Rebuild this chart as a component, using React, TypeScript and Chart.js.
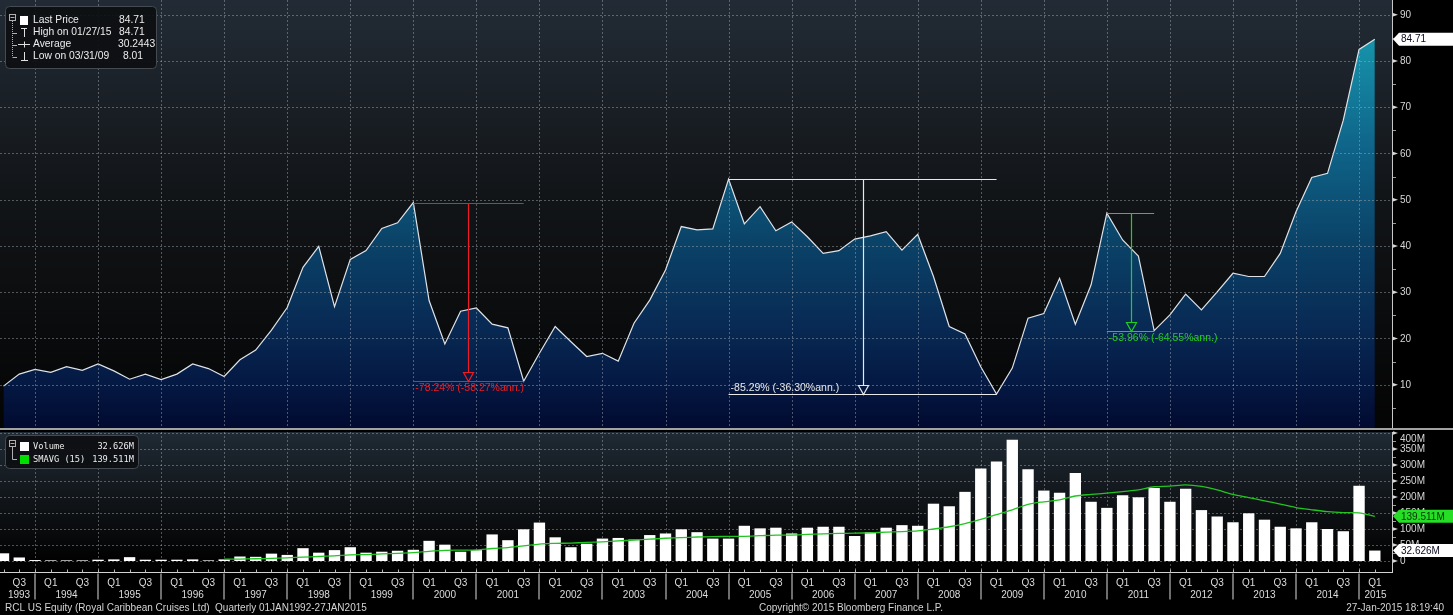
import React, { useEffect, useRef } from "react";
import { Chart, registerables } from "chart.js";
Chart.register(...registerables);

const W = 1453;
const H_PRICE = 430;
const H_VOL = 185;
const FONT = "'Liberation Sans', Arial, sans-serif";
const MONO = "'DejaVu Sans Mono', 'Liberation Mono', monospace";
const FS = 10;

// Quarterly series, first point = Q2 1993, last point = Q1 2015
const FIRST_YEAR = 1993;
const FIRST_QUARTER = 2;

const lastPrice: number[] = [
  9.7, 12.3, 13.3, // 1993
  12.7, 13.9, 13.1, 14.5, // 1994
  13.0, 11.2, 12.3, 11.1, // 1995
  12.3, 14.5, 13.5, 11.8, // 1996
  15.4, 17.5, 21.8, 26.7, // 1997
  35.4, 39.9, 26.9, 37.1, // 1998
  39.0, 43.8, 45.0, 49.4, // 1999
  28.2, 18.8, 25.9, 26.6, // 2000
  23.1, 22.3, 10.75, 16.8, // 2001
  22.6, 19.3, 16.1, 16.8, // 2002
  15.1, 23.3, 28.3, 34.8, // 2003
  44.2, 43.5, 43.7, 54.45, // 2004
  44.8, 48.5, 43.3, 45.2, // 2005
  42.0, 38.4, 39.0, 41.5, // 2006
  42.2, 43.1, 39.1, 42.5, // 2007
  33.4, 22.6, 21.0, 13.9, // 2008
  8.01, 13.6, 24.4, 25.4, // 2009
  33.0, 23.1, 31.6, 47.1, // 2010
  41.3, 37.8, 21.7, 25.1, // 2011
  29.6, 26.2, 30.1, 34.1, // 2012
  33.4, 33.4, 38.4, 47.4, // 2013
  54.8, 55.7, 67.2, 82.5, // 2014
  84.71, // 2015
];

// Volume in millions of shares
const volumeM: number[] = [
  24, 11, 3, // 1993
  2, 2, 2, 4, // 1994
  5, 12, 4, 4, // 1995
  4, 5, 2, 5, // 1996
  14, 13, 23, 19, // 1997
  40, 26, 34, 43, // 1998
  26, 29, 32, 35, // 1999
  63, 51, 29, 34, // 2000
  83, 65, 99, 120, // 2001
  74, 43, 54, 70, // 2002
  72, 67, 81, 86, // 2003
  99, 90, 70, 70, // 2004
  110, 102, 104, 86, // 2005
  104, 107, 107, 78, // 2006
  90, 104, 112, 110, // 2007
  179, 171, 216, 289, // 2008
  311, 379, 287, 220, // 2009
  213, 275, 185, 166, // 2010
  205, 199, 228, 185, // 2011
  226, 159, 139, 121, // 2012
  149, 129, 107, 102, // 2013
  121, 100, 93, 235, // 2014
  32.626, // 2015
];

// 15-period simple moving average of volume (millions)
const smavg15M: (number | null)[] = [
  null, null, null, // 1993
  null, null, null, null, // 1994
  null, null, null, null, // 1995
  null, null, null, 6, // 1996
  6, 7, 8, 10, // 1997
  12, 14, 16, 19, // 1998
  20, 22, 24, 26, // 1999
  30, 33, 34, 35, // 2000
  39, 42, 47, 53, // 2001
  55, 56, 58, 60, // 2002
  63, 65, 68, 71, // 2003
  73, 75, 76, 77, // 2004
  77, 79, 81, 81, // 2005
  83, 85, 86, 87, // 2006
  88, 90, 92, 94, // 2007
  100, 107, 117, 130, // 2008
  145, 160, 177, 185, // 2009
  191, 203, 208, 212, // 2010
  217, 222, 232, 234, // 2011
  238, 233, 222, 208, // 2012
  198, 188, 178, 167, // 2013
  160, 154, 151, 150, // 2014
  139.511, // 2015
];

const quarterLabels: string[] = lastPrice.map((_, i) => {
  const k = FIRST_QUARTER - 1 + i;
  return `Q${(k % 4) + 1} ${FIRST_YEAR + Math.floor(k / 4)}`;
});
const yearLabels: string[] = [
  "1993", "1994", "1995", "1996", "1997", "1998", "1999", "2000", "2001", "2002", "2003", "2004",
  "2005", "2006", "2007", "2008", "2009", "2010", "2011", "2012", "2013", "2014", "2015",
];
const priceTicks: number[] = [10, 20, 30, 40, 50, 60, 70, 80, 90];
const volumeTicks: number[] = [0, 50, 100, 150, 200, 250, 300, 350, 400];
const volumeTickLabels: string[] = ["0", "50M", "100M", "150M", "200M", "250M", "300M", "350M", "400M"];

const drawdowns = [
  { peak: "Q4 1999", trough: "Q3 2001", color: "#ee1c24", text: "-78.24% (-58.27%ann.)", below: true },
  { peak: "Q4 2004", trough: "Q1 2009", color: "#e8e8e8", text: "-85.29% (-36.30%ann.)", below: false },
  { peak: "Q4 2010", trough: "Q3 2011", color: "#1fd01f", text: "-53.96% (-64.55%ann.)", below: true },
];

const X_MIN = -0.032;
const X_MAX = 88.09;

function line(ctx: CanvasRenderingContext2D, x1: number, y1: number, x2: number, y2: number) {
  ctx.beginPath();
  ctx.moveTo(x1, y1);
  ctx.lineTo(x2, y2);
  ctx.stroke();
}

function rrect(ctx: CanvasRenderingContext2D, x: number, y: number, w: number, h: number, r: number) {
  ctx.beginPath();
  ctx.moveTo(x + r, y);
  ctx.lineTo(x + w - r, y);
  ctx.arcTo(x + w, y, x + w, y + r, r);
  ctx.lineTo(x + w, y + h - r);
  ctx.arcTo(x + w, y + h, x + w - r, y + h, r);
  ctx.lineTo(x + r, y + h);
  ctx.arcTo(x, y + h, x, y + h - r, r);
  ctx.lineTo(x, y + r);
  ctx.arcTo(x, y, x + r, y, r);
  ctx.closePath();
}

function badge(ctx: CanvasRenderingContext2D, x: number, yc: number, text: string, fill: string, color: string) {
  ctx.save();
  ctx.beginPath();
  ctx.moveTo(x, yc);
  ctx.lineTo(x + 6, yc - 6.5);
  ctx.lineTo(W, yc - 6.5);
  ctx.lineTo(W, yc + 6.5);
  ctx.lineTo(x + 6, yc + 6.5);
  ctx.closePath();
  ctx.fillStyle = fill;
  ctx.fill();
  ctx.fillStyle = color;
  ctx.font = `${FS}px ${FONT}`;
  ctx.textBaseline = "middle";
  ctx.textAlign = "left";
  ctx.fillText(text, x + 8, yc + 0.5);
  ctx.restore();
}

function tickArrow(ctx: CanvasRenderingContext2D, x: number, py: number) {
  ctx.beginPath();
  ctx.moveTo(x + 1, py - 1.8);
  ctx.lineTo(x + 6, py);
  ctx.lineTo(x + 1, py + 1.8);
  ctx.closePath();
  ctx.fill();
}

function yearBoundaryIdx(): number[] {
  const out: number[] = [];
  quarterLabels.forEach((q, i) => {
    if (q.startsWith("Q4")) out.push(i);
  });
  return out;
}

function areaFill(chart: any) {
  const a = chart.chartArea;
  if (!a) return "#0b3d60";
  const g = chart.ctx.createLinearGradient(0, a.top, 0, a.bottom);
  g.addColorStop(0, "#1aa2b8");
  g.addColorStop(0.1, "#1690a8");
  g.addColorStop(0.33, "#0f658a");
  g.addColorStop(0.55, "#0b4469");
  g.addColorStop(0.75, "#082b55");
  g.addColorStop(0.9, "#041842");
  g.addColorStop(1, "#020a30");
  return g;
}

const pricePlugin = {
  id: "pricePanel",
  beforeDraw(chart: any) {
    const { ctx, chartArea: a } = chart;
    ctx.save();
    ctx.fillStyle = "#000";
    ctx.fillRect(0, 0, W, H_PRICE);
    const g = ctx.createLinearGradient(0, 0, 0, a.bottom);
    g.addColorStop(0, "#222b35");
    g.addColorStop(0.45, "#121518");
    g.addColorStop(1, "#040404");
    ctx.fillStyle = g;
    ctx.fillRect(0, 0, a.right, a.bottom);
    ctx.restore();
  },
  afterDatasetsDraw(chart: any) {
    const { ctx, chartArea: a, scales } = chart;
    const x = scales.x;
    const y = scales.y;
    ctx.save();
    // dotted grid
    ctx.strokeStyle = "rgba(170,176,182,0.45)";
    ctx.lineWidth = 1;
    ctx.setLineDash([2, 2]);
    priceTicks.forEach((v) => {
      const py = Math.round(y.getPixelForValue(v)) + 0.5;
      line(ctx, a.left - 3, py, a.right, py);
    });
    yearBoundaryIdx().forEach((i) => {
      const px = Math.round(x.getPixelForValue(i)) + 0.5;
      line(ctx, px, 0, px, a.bottom);
    });
    ctx.setLineDash([]);

    // drawdown annotations
    ctx.font = `10.5px ${FONT}`;
    ctx.textBaseline = "middle";
    ctx.textAlign = "left";
    drawdowns.forEach((d) => {
      const ip = quarterLabels.indexOf(d.peak);
      const it = quarterLabels.indexOf(d.trough);
      const xp = x.getPixelForValue(ip);
      const xt = x.getPixelForValue(it);
      const yp = Math.round(y.getPixelForValue(lastPrice[ip])) + 0.5;
      const yt = Math.round(y.getPixelForValue(lastPrice[it])) + 0.5;
      const xm = Math.round((xp + xt) / 2) + 0.5;
      ctx.strokeStyle = d.color;
      ctx.fillStyle = d.color;
      ctx.lineWidth = 1.2;
      line(ctx, xp, yp, xt, yp);
      line(ctx, xp, yt, xt, yt);
      line(ctx, xm, yp, xm, yt - 9);
      ctx.beginPath();
      ctx.moveTo(xm - 5, yt - 9);
      ctx.lineTo(xm + 5, yt - 9);
      ctx.lineTo(xm, yt);
      ctx.closePath();
      ctx.stroke();
      ctx.fillText(d.text, xp + 2, d.below ? yt + 6.5 : yt - 6);
    });

    ctx.restore();
  },
  afterDraw(chart: any) {
    const { ctx, chartArea: a, scales } = chart;
    const y = scales.y;
    ctx.save();
    // axis line
    ctx.strokeStyle = "#c8c8c8";
    ctx.lineWidth = 1;
    line(ctx, a.right + 0.5, 0, a.right + 0.5, a.bottom);
    // major ticks + labels
    ctx.font = `${FS}px ${FONT}`;
    ctx.textBaseline = "middle";
    ctx.textAlign = "left";
    ctx.fillStyle = "#d6d6d6";
    priceTicks.forEach((v) => {
      const py = y.getPixelForValue(v);
      tickArrow(ctx, a.right, py);
      ctx.fillText(String(v), a.right + 8, py + 0.5);
    });
    // minor ticks
    ctx.strokeStyle = "#9a9a9a";
    priceTicks.forEach((v) => {
      const py = Math.round(y.getPixelForValue(v - 5)) + 0.5;
      line(ctx, a.right + 1, py, a.right + 4, py);
    });
    // last price badge
    const lp = lastPrice[lastPrice.length - 1];
    badge(ctx, a.right + 1, y.getPixelForValue(lp), lp.toFixed(2), "#ffffff", "#0a0a20");

    // panel separator
    ctx.fillStyle = "#a2a2a2";
    ctx.fillRect(0, H_PRICE - 2, W, 2);

    // legend
    rrect(ctx, 5.5, 6.5, 151, 62, 4);
    ctx.fillStyle = "rgba(13,15,18,0.93)";
    ctx.fill();
    ctx.strokeStyle = "#454b51";
    ctx.stroke();
    ctx.strokeStyle = "#b0b0b0";
    ctx.strokeRect(9.5, 14.5, 6, 6);
    line(ctx, 10.5, 17.5, 14.5, 17.5);
    ctx.setLineDash([1, 1]);
    line(ctx, 12.5, 21, 12.5, 57);
    ctx.setLineDash([]);
    [32.5, 44.5, 56.5].forEach((ry) => line(ctx, 12.5, Math.round(ry) + 0.5, 17, Math.round(ry) + 0.5));
    ctx.fillStyle = "#ffffff";
    ctx.fillRect(20, 16, 8, 9);
    ctx.strokeStyle = "#e0e0e0";
    // High "T"
    line(ctx, 21, 28.5, 27, 28.5);
    line(ctx, 24.5, 28.5, 24.5, 37);
    // Average "-+-"
    line(ctx, 18, 44.5, 30, 44.5);
    line(ctx, 24.5, 41.5, 24.5, 47.5);
    // Low
    line(ctx, 24.5, 52, 24.5, 60.5);
    line(ctx, 21, 60.5, 28, 60.5);
    ctx.fillStyle = "#ececec";
    ctx.font = `10.3px ${FONT}`;
    const rows: [string, string, number][] = [
      ["Last Price", lp.toFixed(2), 119],
      ["High on 01/27/15", "84.71", 119],
      ["Average", "30.2443", 118],
      ["Low on 03/31/09", "8.01", 123],
    ];
    rows.forEach(([l, v, vx], k) => {
      const ry = 20.5 + k * 12;
      ctx.fillText(l, 33, ry);
      ctx.fillText(v, vx, ry);
    });
    ctx.restore();
  },
};

const volPlugin = {
  id: "volPanel",
  beforeDraw(chart: any) {
    const { ctx, chartArea: a } = chart;
    ctx.save();
    ctx.fillStyle = "#000";
    ctx.fillRect(0, 0, W, H_VOL);
    const g = ctx.createLinearGradient(0, a.top, 0, a.bottom);
    g.addColorStop(0, "#1f2a34");
    g.addColorStop(0.5, "#101418");
    g.addColorStop(0.9, "#020202");
    g.addColorStop(1, "#000000");
    ctx.fillStyle = g;
    ctx.fillRect(0, a.top, a.right, a.bottom - a.top);
    ctx.restore();
  },
  beforeDatasetsDraw(chart: any) {
    const { ctx, chartArea: a, scales } = chart;
    const x = scales.x;
    const y = scales.y;
    ctx.save();
    ctx.strokeStyle = "rgba(170,176,182,0.45)";
    ctx.lineWidth = 1;
    ctx.setLineDash([2, 2]);
    volumeTicks.forEach((v) => {
      const py = Math.round(y.getPixelForValue(v)) + 0.5;
      line(ctx, a.left - 3, py, a.right, py);
    });
    yearBoundaryIdx().forEach((i) => {
      const px = Math.round(x.getPixelForValue(i)) + 0.5;
      line(ctx, px, a.top, px, a.bottom);
    });
    ctx.restore();
  },
  afterDraw(chart: any) {
    const { ctx, chartArea: a, scales } = chart;
    const x = scales.x;
    const y = scales.y;
    ctx.save();
    ctx.lineWidth = 1;
    // right axis
    ctx.strokeStyle = "#c8c8c8";
    line(ctx, a.right + 0.5, a.top, a.right + 0.5, a.bottom + 1);
    ctx.font = `${FS}px ${FONT}`;
    ctx.textBaseline = "middle";
    ctx.textAlign = "left";
    volumeTicks.forEach((v, k) => {
      const py = y.getPixelForValue(v);
      ctx.fillStyle = "#d6d6d6";
      tickArrow(ctx, a.right, py);
      ctx.fillText(volumeTickLabels[k], a.right + 8, Math.max(py, a.top + 7));
      if (v > 0) {
        const pm = Math.round(y.getPixelForValue(v - 25)) + 0.5;
        ctx.strokeStyle = "#9a9a9a";
        line(ctx, a.right + 1, pm, a.right + 4, pm);
      }
    });
    const lastSma = smavg15M[smavg15M.length - 1] as number;
    const lastVol = volumeM[volumeM.length - 1];
    badge(ctx, a.right + 1, y.getPixelForValue(lastSma), lastSma.toFixed(3) + "M", "#25de25", "#063006");
    badge(ctx, a.right + 1, y.getPixelForValue(lastVol), lastVol.toFixed(3) + "M", "#ffffff", "#0a0a20");

    // x axis
    const axisY = a.bottom + 0.5;
    ctx.strokeStyle = "#d2d2d2";
    line(ctx, 0, axisY, a.right + 1, axisY);
    line(ctx, a.right + 0.5, axisY - 4, a.right + 0.5, axisY);
    ctx.strokeStyle = "#b8b8b8";
    quarterLabels.forEach((_, i) => {
      const px = Math.round(x.getPixelForValue(i)) + 0.5;
      line(ctx, px, axisY - 3, px, axisY);
    });
    const bounds = yearBoundaryIdx();
    ctx.strokeStyle = "#6e6e6e";
    ctx.lineWidth = 2;
    bounds.forEach((i) => {
      const px = Math.round(x.getPixelForValue(i));
      line(ctx, px, axisY + 1, px, axisY + 27);
    });
    ctx.lineWidth = 1;
    ctx.fillStyle = "#dcdcdc";
    ctx.textAlign = "center";
    quarterLabels.forEach((q, i) => {
      const qq = q.slice(0, 2);
      if (qq === "Q1" || qq === "Q3") ctx.fillText(qq, x.getPixelForValue(i), axisY + 10.5);
    });
    const edges = [a.left, ...bounds.map((i) => x.getPixelForValue(i)), a.right];
    yearLabels.forEach((yl, k) => {
      const cx = (edges[k] + edges[k + 1]) / 2;
      ctx.fillText(yl, cx, axisY + 22.5);
    });
    // footer
    ctx.fillStyle = "#d4d4d4";
    ctx.textAlign = "left";
    ctx.fillText("RCL US Equity (Royal Caribbean Cruises Ltd)  Quarterly 01JAN1992-27JAN2015", 5, axisY + 35.5);
    ctx.fillText("Copyright\u00a9 2015 Bloomberg Finance L.P.", 759, axisY + 35.5);
    ctx.textAlign = "right";
    ctx.fillText("27-Jan-2015 18:19:40", 1444, axisY + 35.5);

    // legend
    rrect(ctx, 5.5, 5.5, 133, 33, 4);
    ctx.fillStyle = "rgba(13,15,18,0.93)";
    ctx.fill();
    ctx.strokeStyle = "#454b51";
    ctx.stroke();
    ctx.strokeStyle = "#b0b0b0";
    ctx.strokeRect(9.5, 10.5, 6, 6);
    line(ctx, 10.5, 13.5, 14.5, 13.5);
    line(ctx, 12.5, 17, 12.5, 29.5);
    line(ctx, 12.5, 29.5, 17, 29.5);
    ctx.fillStyle = "#ffffff";
    ctx.fillRect(20, 12, 9, 9);
    ctx.fillStyle = "#00e000";
    ctx.fillRect(20, 25, 9, 9);
    ctx.fillStyle = "#ececec";
    ctx.font = `8.7px ${MONO}`;
    ctx.textAlign = "left";
    ctx.fillText("Volume", 33, 16.5);
    ctx.fillText("SMAVG (15)", 33, 29.5);
    ctx.textAlign = "right";
    ctx.fillText(lastVol.toFixed(3) + "M", 134, 16.5);
    ctx.fillText(lastSma.toFixed(3) + "M", 134, 29.5);
    ctx.restore();
  },
};

export default function App() {
  const priceRef = useRef<HTMLCanvasElement>(null);
  const volRef = useRef<HTMLCanvasElement>(null);

  useEffect(() => {
    document.body.style.margin = "0";
    document.body.style.background = "#000";
    const pc = new Chart(priceRef.current as HTMLCanvasElement, {
      type: "line",
      data: {
        labels: quarterLabels,
        datasets: [
          {
            label: "Last Price",
            data: lastPrice.map((v, i) => ({ x: i, y: v })),
            borderColor: "#dfe3e8",
            borderWidth: 1.2,
            pointRadius: 0,
            tension: 0,
            fill: "start",
            backgroundColor: (c: any) => areaFill(c.chart),
          },
        ],
      },
      options: {
        animation: false,
        responsive: false,
        devicePixelRatio: 1,
        events: [],
        layout: { padding: { left: 3, right: 0, top: 5, bottom: 2 } },
        plugins: { legend: { display: false }, tooltip: { enabled: false } },
        scales: {
          x: { type: "linear", min: X_MIN, max: X_MAX, display: false },
          y: {
            type: "linear",
            position: "right",
            min: 0.65,
            max: 92.1,
            afterFit: (s: any) => {
              s.width = 61;
            },
            grid: { display: false, drawTicks: false },
            border: { display: false },
            ticks: { display: false },
          },
        },
      } as any,
      plugins: [pricePlugin],
    });

    const vc = new Chart(volRef.current as HTMLCanvasElement, {
      type: "bar",
      data: {
        labels: quarterLabels,
        datasets: [
          {
            type: "line",
            label: "SMAVG (15)",
            data: smavg15M.map((v, i) => ({ x: i, y: v })),
            borderColor: "#22c422",
            borderWidth: 1.3,
            pointRadius: 0,
            tension: 0.3,
            order: 1,
          } as any,
          {
            type: "bar",
            label: "Volume",
            data: volumeM.map((v, i) => ({ x: i, y: v })),
            backgroundColor: "#ffffff",
            borderWidth: 0,
            barPercentage: 0.72,
            categoryPercentage: 1,
            clip: 8,
            order: 2,
          } as any,
        ],
      },
      options: {
        animation: false,
        responsive: false,
        devicePixelRatio: 1,
        events: [],
        layout: { padding: { left: 3, right: 0, top: 2, bottom: 43 } },
        plugins: { legend: { display: false }, tooltip: { enabled: false } },
        scales: {
          x: { type: "linear", min: X_MIN, max: X_MAX, display: false, offset: false },
          y: {
            type: "linear",
            position: "right",
            min: -34.4,
            max: 403,
            afterFit: (s: any) => {
              s.width = 61;
            },
            grid: { display: false, drawTicks: false },
            border: { display: false },
            ticks: { display: false },
          },
        },
      } as any,
      plugins: [volPlugin],
    });

    return () => {
      pc.destroy();
      vc.destroy();
    };
  }, []);

  return (
    <div style={{ width: W, height: H_PRICE + H_VOL, background: "#000", overflow: "hidden" }}>
      <canvas ref={priceRef} width={W} height={H_PRICE} style={{ display: "block", width: W, height: H_PRICE }} />
      <canvas ref={volRef} width={W} height={H_VOL} style={{ display: "block", width: W, height: H_VOL }} />
    </div>
  );
}
